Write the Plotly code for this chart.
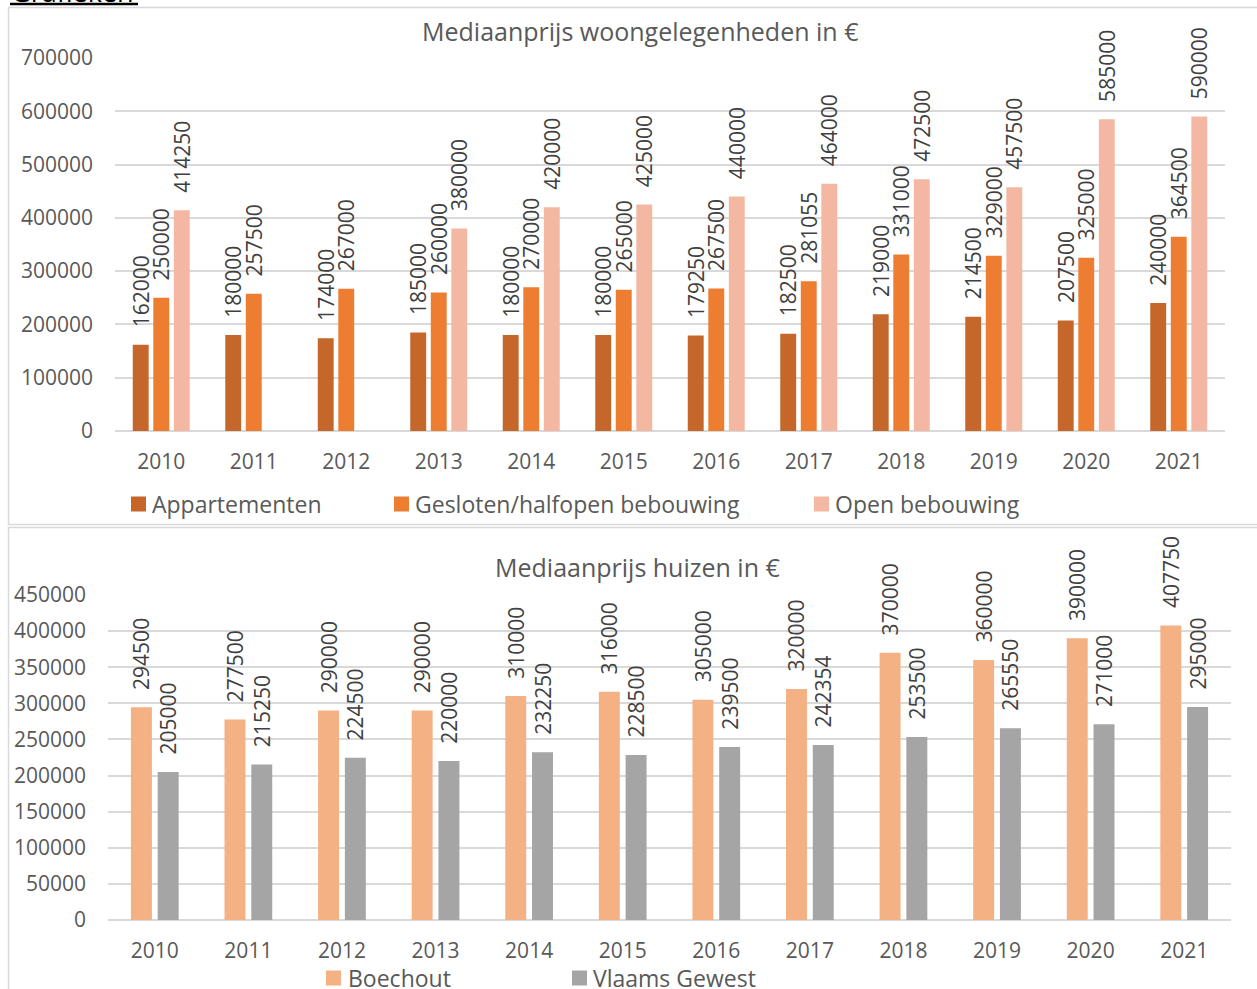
import plotly.graph_objects as go

W, H = 1257, 989
def px(x):
    return x / W
def py(y):
    return 1 - y / H

# ---------------- data ----------------
years = [str(y) for y in range(2010, 2022)]

series_top = ["Appartementen", "Gesloten/halfopen bebouwing", "Open bebouwing"]
appartementen = [162000, 180000, 174000, 185000, 180000, 180000, 179250, 182500, 219000, 214500, 207500, 240000]
gesloten = [250000, 257500, 267000, 260000, 270000, 265000, 267500, 281055, 331000, 329000, 325000, 364500]
open_bebouwing = [414250, None, None, 380000, 420000, 425000, 440000, 464000, 472500, 457500, 585000, 590000]

series_bottom = ["Boechout", "Vlaams Gewest"]
boechout = [294500, 277500, 290000, 290000, 310000, 316000, 305000, 320000, 370000, 360000, 390000, 407750]
vlaams = [205000, 215250, 224500, 220000, 232250, 228500, 239500, 242354, 253500, 265550, 271000, 295000]

heading = "Grafieken"
title_top = "Mediaanprijs woongelegenheden in €"
title_bottom = "Mediaanprijs huizen in €"

# ---------------- style ----------------
FONT = "Open Sans"
TXT = "#595959"
LBL = "#404040"
GRID = "#D9D9D9"
colors_top = ["#C5662A", "#ED7D31", "#F4B8A2"]
colors_bottom = ["#F4B183", "#A5A5A5"]
PAD = "\u00a0\u00a0\u2009"

def labels(vals):
    return [PAD + str(v) if v is not None else "" for v in vals]

fig = go.Figure()

top_vals = [appartementen, gesloten, open_bebouwing]
top_w = 0.172
top_off = [-0.222, 0.0, 0.222]
for name, vals, col, c in zip(series_top, top_vals, colors_top, top_off):
    fig.add_trace(go.Bar(
        x=years, y=vals, name=name, marker=dict(color=col, line=dict(width=0)),
        width=top_w, offset=c - top_w / 2,
        text=labels(vals), textposition="outside", textangle=-90,
        constraintext="none", cliponaxis=False,
        textfont=dict(family=FONT, size=21, color=LBL),
        xaxis="x", yaxis="y", showlegend=False, hoverinfo="x+y",
    ))

bot_vals = [boechout, vlaams]
bot_w = 0.224
bot_off = [-0.143, 0.143]
for name, vals, col, c in zip(series_bottom, bot_vals, colors_bottom, bot_off):
    fig.add_trace(go.Bar(
        x=years, y=vals, name=name, marker=dict(color=col, line=dict(width=0)),
        width=bot_w, offset=c - bot_w / 2,
        text=labels(vals), textposition="outside", textangle=-90,
        constraintext="none", cliponaxis=False,
        textfont=dict(family=FONT, size=21, color=LBL),
        xaxis="x2", yaxis="y2", showlegend=False, hoverinfo="x+y",
    ))

axis_font = dict(family=FONT, size=21, color=TXT)
xcommon = dict(type="category", range=[-0.5, 11.5], showgrid=False, showline=False, automargin=False,
               zeroline=False, ticks="", tickfont=axis_font, ticklabelstandoff=16, fixedrange=True)
ycommon = dict(showgrid=True, gridcolor=GRID, gridwidth=1.5, zeroline=True, zerolinecolor=GRID,
               zerolinewidth=1.5, showline=False, ticks="", tickformat="d", tickfont=axis_font,
               automargin=False, ticklabelstandoff=21, fixedrange=True)

fig.update_layout(
    width=W, height=H, autosize=False,
    margin=dict(l=0, r=0, t=0, b=0, pad=0),
    paper_bgcolor="white", plot_bgcolor="white",
    barmode="overlay",
    font=dict(family=FONT, color=TXT),
    xaxis=dict(domain=[px(115), px(1225)], anchor="y", **xcommon),
    yaxis=dict(domain=[py(431), py(58)], range=[0, 700000], dtick=100000, anchor="x", **ycommon),
    xaxis2=dict(domain=[px(108), px(1231)], anchor="y2", **xcommon),
    yaxis2=dict(domain=[py(920), py(595)], range=[0, 450000], dtick=50000, anchor="x2", **ycommon),
)

shapes = []
annotations = []

# chart borders
shapes.append(dict(type="rect", xref="paper", yref="paper", x0=px(8.5), x1=px(1262), y0=py(524.5), y1=py(7.5),
                   line=dict(color=GRID, width=1.5), fillcolor="rgba(0,0,0,0)", layer="below"))
shapes.append(dict(type="rect", xref="paper", yref="paper", x0=px(8.5), x1=px(1262), y0=py(1000), y1=py(527.5),
                   line=dict(color=GRID, width=1.5), fillcolor="rgba(0,0,0,0)", layer="below"))

# heading above the charts (mostly cut off at the top edge)
annotations.append(dict(text=heading, xref="paper", yref="paper", x=px(9), y=py(-9), xanchor="left",
                        yanchor="middle", showarrow=False, font=dict(family=FONT, size=27, color="black")))
shapes.append(dict(type="line", xref="paper", yref="paper", x0=px(10), x1=px(138), y0=py(4), y1=py(4),
                   line=dict(color="black", width=2.3)))

# titles
annotations.append(dict(text=title_top, xref="paper", yref="paper", x=px(640), y=py(31), xanchor="center",
                        yanchor="middle", showarrow=False, font=dict(family=FONT, size=25, color=TXT)))
annotations.append(dict(text=title_bottom, xref="paper", yref="paper", x=px(637), y=py(567), xanchor="center",
                        yanchor="middle", showarrow=False, font=dict(family=FONT, size=25, color=TXT)))

# legends
def legend_item(name, col, sx, tx, cy):
    shapes.append(dict(type="rect", xref="paper", yref="paper", x0=px(sx), x1=px(sx + 15),
                       y0=py(cy + 7.5), y1=py(cy - 7.5), line=dict(width=0), fillcolor=col))
    annotations.append(dict(text=name, xref="paper", yref="paper", x=px(tx), y=py(cy), xanchor="left",
                            yanchor="middle", showarrow=False, font=dict(family=FONT, size=23, color=TXT)))

for name, col, sx, tx in zip(series_top, colors_top, [131, 394, 814], [150, 413, 833]):
    legend_item(name, col, sx, tx, 504)
for name, col, sx, tx in zip(series_bottom, colors_bottom, [326, 572], [346, 591]):
    legend_item(name, col, sx, tx, 978)

fig.update_layout(shapes=shapes, annotations=annotations)

fig.write_html("out.html", config={"displayModeBar": False},
               post_script="document.body.style.margin='0px';")
